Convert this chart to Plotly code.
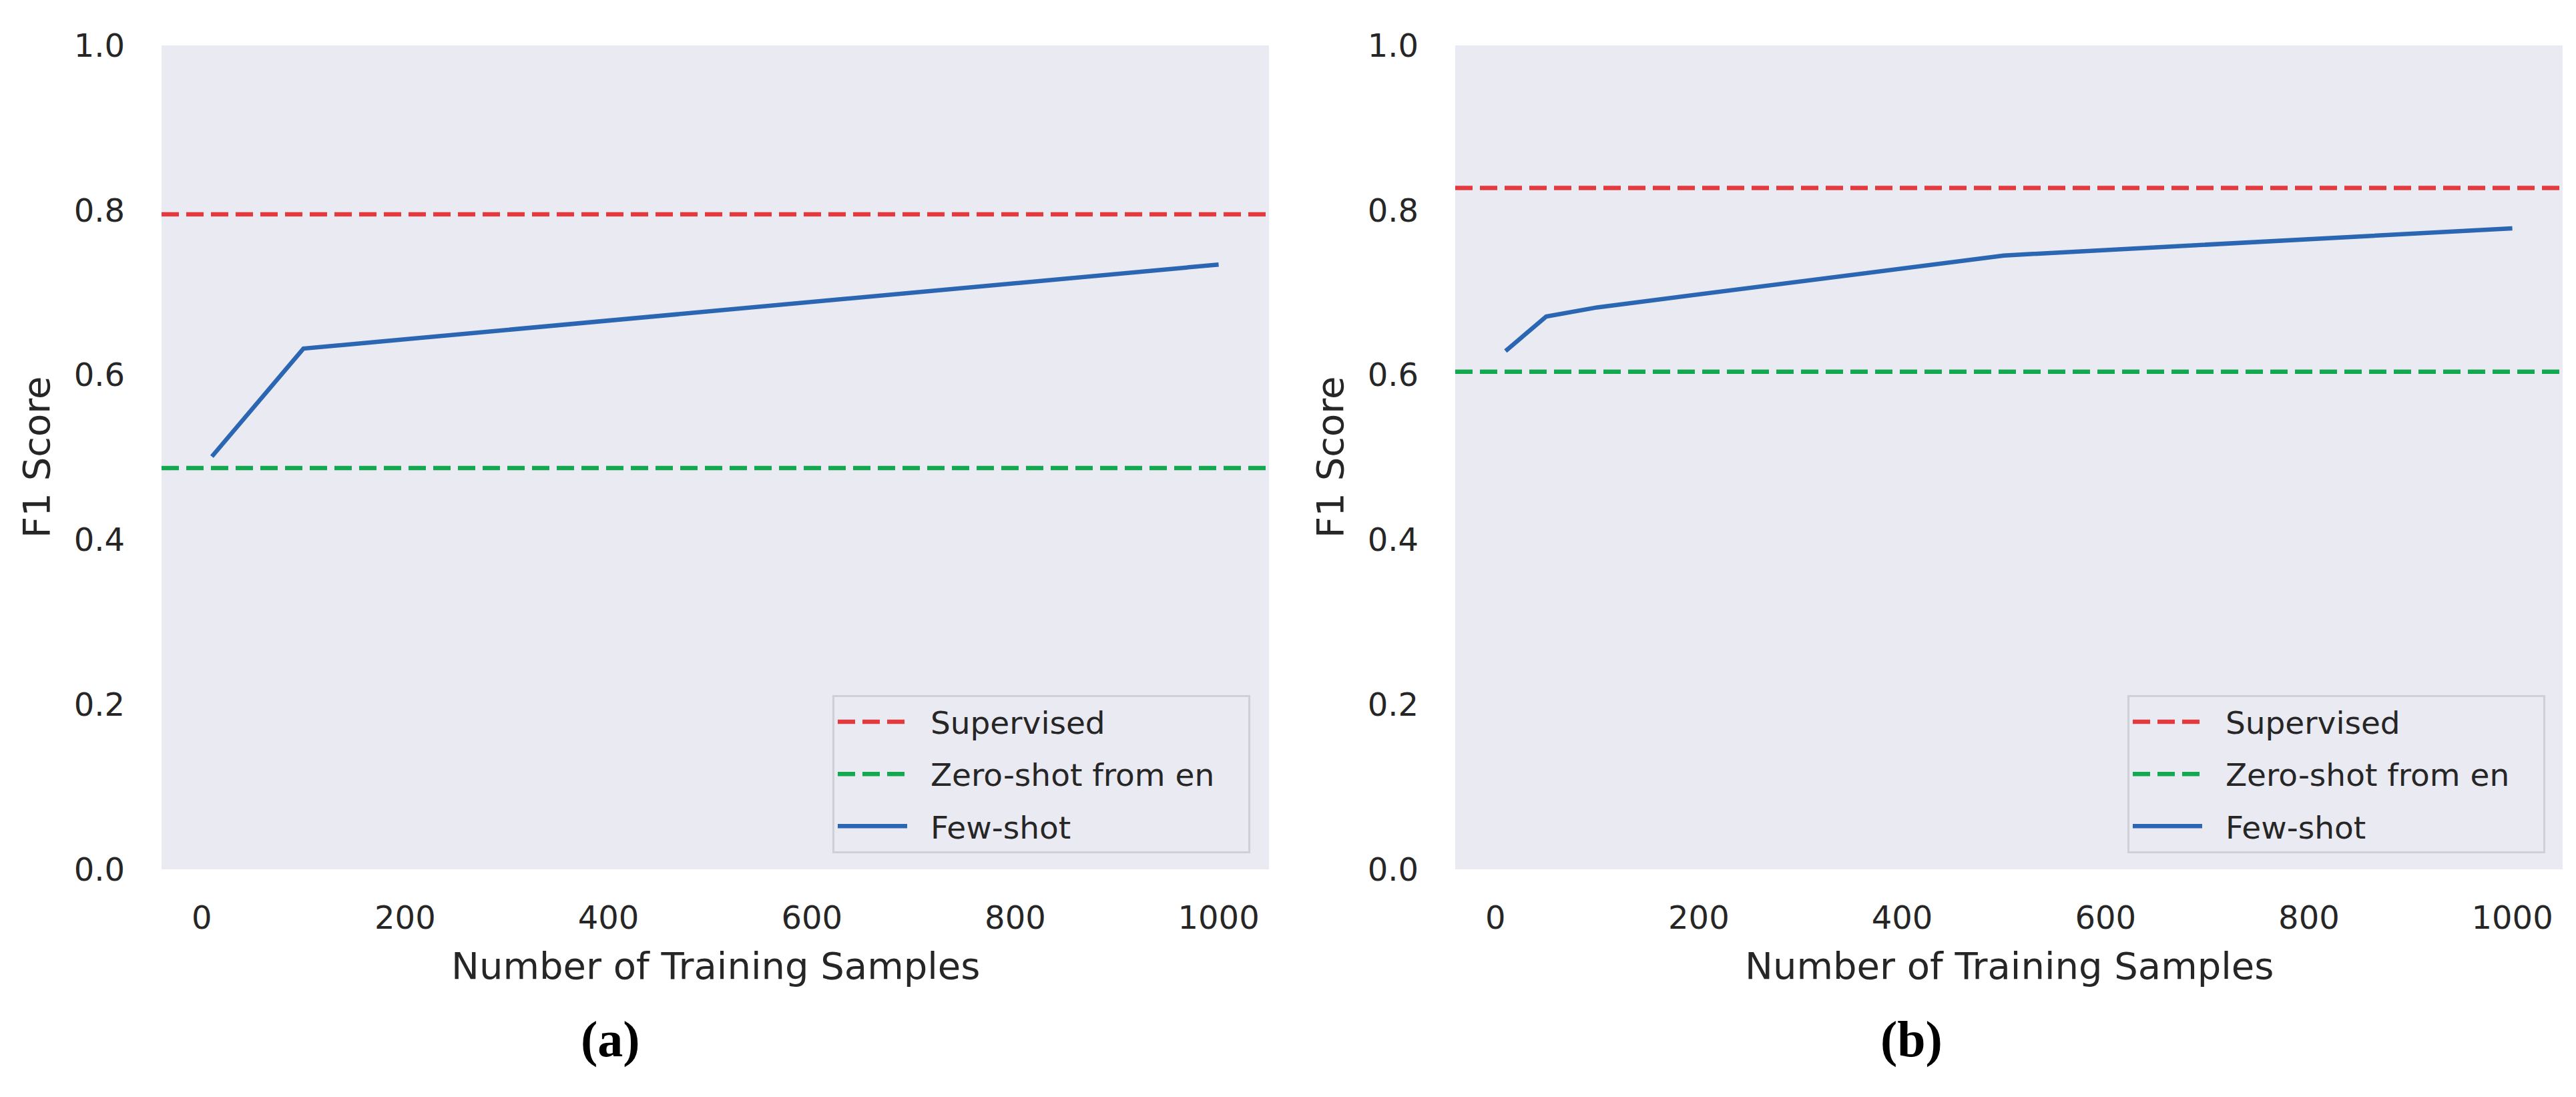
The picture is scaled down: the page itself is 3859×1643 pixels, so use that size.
import plotly.graph_objects as go

# ---------------- data ----------------
panel_a_x = [10, 100, 1000]
panel_a_fewshot = [0.501, 0.632, 0.734]
panel_a_supervised = 0.795
panel_a_zeroshot = 0.487

panel_b_x = [10, 50, 100, 500, 1000]
panel_b_fewshot = [0.629, 0.671, 0.682, 0.745, 0.778]
panel_b_supervised = 0.827
panel_b_zeroshot = 0.604

series_names = ["Supervised", "Zero-shot from en", "Few-shot"]
x_tick_vals = [0, 200, 400, 600, 800, 1000]
y_tick_vals = [0.0, 0.2, 0.4, 0.6, 0.8, 1.0]
x_range = [-39.5, 1049.5]
y_range = [0.0, 1.0]
captions = ["(a)", "(b)"]
x_title = "Number of Training Samples"
y_title = "F1 Score"

# ---------------- style ----------------
W, H = 3859, 1643
RED = "#E33A3F"
GREEN = "#12A84F"
BLUE = "#2A66B2"
BG = "#EAEAF2"
TXT = "#262626"
FONT = "DejaVu Sans"
PAD_L = "\u00a0\u00a0"
PAD_R = "\u00a0\u00a0\u00a0"

def px_x(p):
    return p / W

def px_y(p):
    return (H - p) / H

dom_y = [px_y(1294), px_y(60)]
dom_a = [px_x(234), px_x(1893)]
dom_b = [px_x(2172), px_x(3831)]

fig = go.Figure()

panels = [
    ("x", "y", "legend", panel_a_x, panel_a_fewshot, panel_a_supervised, panel_a_zeroshot),
    ("x2", "y2", "legend2", panel_b_x, panel_b_fewshot, panel_b_supervised, panel_b_zeroshot),
]

for xa, ya, leg, xs, few, sup, zero in panels:
    fig.add_trace(go.Scatter(
        x=x_range, y=[sup, sup], mode="lines", name=PAD_L + series_names[0] + PAD_R,
        line=dict(color=RED, width=6.5, dash="26px,11px"),
        xaxis=xa, yaxis=ya, legend=leg, legendgroup=leg + "a", showlegend=True))
    fig.add_trace(go.Scatter(
        x=x_range, y=[zero, zero], mode="lines", name=PAD_L + series_names[1] + PAD_R,
        line=dict(color=GREEN, width=6.5, dash="26px,11px"),
        xaxis=xa, yaxis=ya, legend=leg, legendgroup=leg + "b", showlegend=True))
    fig.add_trace(go.Scatter(
        x=xs, y=few, mode="lines", name=PAD_L + series_names[2] + PAD_R,
        line=dict(color=BLUE, width=6.5),
        xaxis=xa, yaxis=ya, legend=leg, legendgroup=leg + "c", showlegend=True))

axis_common = dict(
    showgrid=False, zeroline=False, showline=False, ticks="",
    automargin=False,
    tickfont=dict(family=FONT, size=48, color=TXT),
)

legend_common = dict(
    font=dict(family=FONT, size=47, color=TXT),
    bgcolor=BG, bordercolor="#CFCFD6", borderwidth=3,
    xanchor="right", yanchor="bottom", yref="paper", xref="paper",
    traceorder="grouped", tracegroupgap=14, itemwidth=104,
)

fig.update_layout(
    width=W, height=H,
    margin=dict(l=0, r=0, t=0, b=0, autoexpand=False),
    paper_bgcolor="white", plot_bgcolor=BG,
    xaxis=dict(domain=dom_a, range=x_range, tickvals=x_tick_vals, anchor="y",
               ticklabelstandoff=40, **axis_common),
    yaxis=dict(domain=dom_y, range=y_range, tickvals=y_tick_vals, tickformat=".1f", anchor="x",
               ticklabelstandoff=54, **axis_common),
    xaxis2=dict(domain=dom_b, range=x_range, tickvals=x_tick_vals, anchor="y2",
                ticklabelstandoff=40, **axis_common),
    yaxis2=dict(domain=dom_y, range=y_range, tickvals=y_tick_vals, tickformat=".1f", anchor="x2",
                ticklabelstandoff=54, **axis_common),
    legend=dict(x=px_x(1865), y=px_y(1270), **legend_common),
    legend2=dict(x=px_x(3805), y=px_y(1270), **legend_common),
    showlegend=True,
)

annotations = []
for dom, ylab_x, cap, cap_x in [(dom_a, 46, captions[0], 906), (dom_b, 1984, captions[1], 2855)]:
    annotations.append(dict(
        text=x_title, xref="paper", yref="paper",
        x=(dom[0] + dom[1]) / 2, y=px_y(1438), xanchor="center", yanchor="middle",
        showarrow=False, font=dict(family=FONT, size=56, color=TXT)))
    annotations.append(dict(
        text=y_title, xref="paper", yref="paper",
        x=px_x(ylab_x), y=(dom_y[0] + dom_y[1]) / 2, xanchor="center", yanchor="middle",
        textangle=-90, showarrow=False, font=dict(family=FONT, size=56, color=TXT)))
    annotations.append(dict(
        text="<b>" + cap + "</b>", xref="paper", yref="paper",
        x=px_x(cap_x), y=px_y(1548), xanchor="center", yanchor="middle",
        showarrow=False, font=dict(family="Liberation Serif", size=76, color="black")))
fig.update_layout(annotations=annotations)

fig.write_html("out.html")
